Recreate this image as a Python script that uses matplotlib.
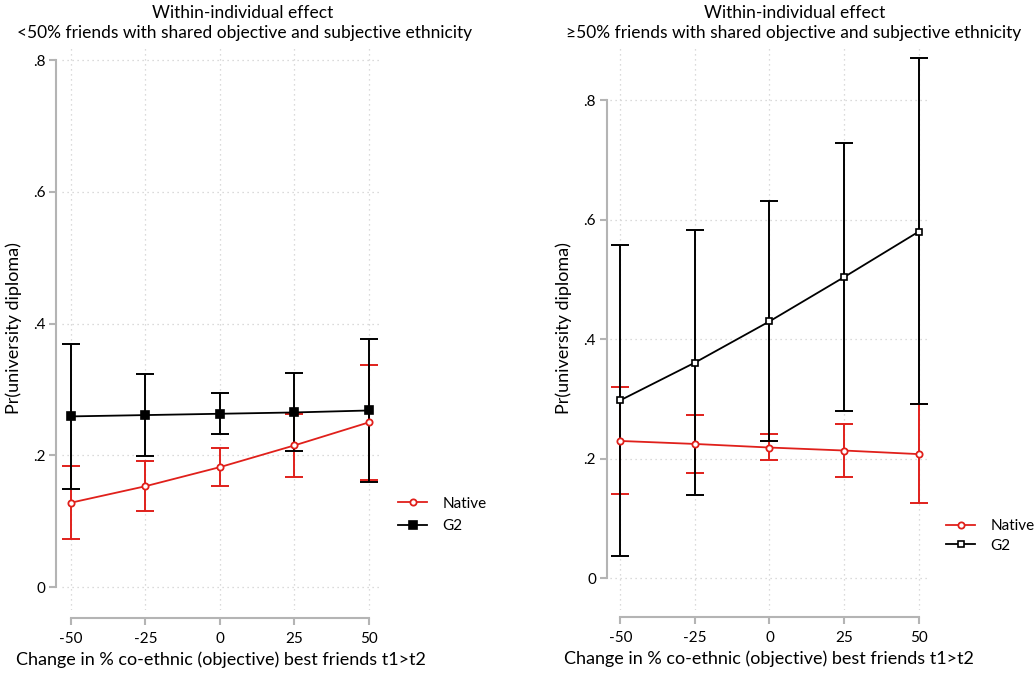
import matplotlib
matplotlib.use("Agg")
import matplotlib.pyplot as plt
from matplotlib.lines import Line2D
import numpy as np

plt.rcParams["font.family"] = ["Lato", "DejaVu Sans"]

# x values (change in % co-ethnic best friends)
change = [-50, -25, 0, 25, 50]

# left panel: <50% friends with shared ethnicity
left_native = [0.128, 0.153, 0.182, 0.215, 0.250]
left_native_lo = [0.073, 0.115, 0.153, 0.167, 0.163]
left_native_hi = [0.184, 0.192, 0.211, 0.263, 0.337]
left_g2 = [0.259, 0.261, 0.263, 0.265, 0.268]
left_g2_lo = [0.149, 0.199, 0.232, 0.206, 0.160]
left_g2_hi = [0.369, 0.323, 0.294, 0.325, 0.376]

# right panel: >=50% friends with shared ethnicity
right_native = [0.230, 0.225, 0.219, 0.214, 0.208]
right_native_lo = [0.141, 0.176, 0.198, 0.169, 0.127]
right_native_hi = [0.320, 0.274, 0.242, 0.259, 0.291]
right_g2 = [0.298, 0.361, 0.430, 0.504, 0.580]
right_g2_lo = [0.038, 0.139, 0.230, 0.280, 0.292]
right_g2_hi = [0.557, 0.583, 0.631, 0.729, 0.870]

xticks = [-50, -25, 0, 25, 50]
left_yticks = [0, 0.2, 0.4, 0.6, 0.8]
ytick_labels = ["0", ".2", ".4", ".6", ".8"]

RED = "#e0201b"
GRAY = "#b4b4b4"
W, H = 1036, 674

fig = plt.figure(figsize=(W / 100, H / 100), dpi=100)


def px_axes(left, top, right, bottom):
    return fig.add_axes([left / W, 1 - bottom / H, (right - left) / W, (bottom - top) / H])


def draw_panel(ax, nat, nat_lo, nat_hi, g2, g2_lo, g2_hi, g2_filled, xlim, ylim, yoff, xoff):
    ax.set_xlim(*xlim)
    ax.set_ylim(*ylim)
    nat, g2 = np.array(nat), np.array(g2)
    # confidence intervals first, then lines on top
    ax.errorbar(change, nat, yerr=[nat - np.array(nat_lo), np.array(nat_hi) - nat],
                fmt="none", ecolor=RED, elinewidth=1.4, capsize=6.5, capthick=1.4, zorder=2)
    ax.errorbar(change, g2, yerr=[g2 - np.array(g2_lo), np.array(g2_hi) - g2],
                fmt="none", ecolor="black", elinewidth=1.4, capsize=6.5, capthick=1.4, zorder=3)
    ax.plot(change, nat, color=RED, lw=1.3, marker="o", ms=4.5, mfc="white", mec=RED,
            mew=1.3, zorder=4)
    ax.plot(change, g2, color="black", lw=1.3, marker="s", ms=5.5 if g2_filled else 4.8,
            mfc="black" if g2_filled else "white", mec="black", mew=1.2, zorder=5)

    ax.set_xticks(xticks)
    ax.set_xticklabels([str(v) for v in xticks])
    ax.set_yticks(left_yticks)
    ax.set_yticklabels(ytick_labels)
    ax.grid(True, color="#cfcfcf", linestyle=(0, (1, 3)), linewidth=0.9)
    ax.set_axisbelow(True)
    for s in ["top", "right"]:
        ax.spines[s].set_visible(False)
    ax.spines["left"].set_position(("outward", yoff))
    ax.spines["bottom"].set_position(("outward", xoff))
    ax.spines["left"].set_bounds(0, 0.8)
    ax.spines["bottom"].set_bounds(-50, 50)
    for s in ["left", "bottom"]:
        ax.spines[s].set_color(GRAY)
        ax.spines[s].set_linewidth(1.5)
    ax.tick_params(axis="both", colors=GRAY, width=1.5, length=5, labelcolor="black",
                   labelsize=11)
    ax.tick_params(axis="x", pad=5)
    ax.tick_params(axis="y", pad=3)
    ax.set_xlabel("Change in % co-ethnic (objective) best friends t1>t2", fontsize=13,
                  labelpad=4)
    ax.set_ylabel("Pr(university diploma)", fontsize=13, labelpad=8)


ax1 = px_axes(62, 46, 380, 610)
draw_panel(ax1, left_native, left_native_lo, left_native_hi,
           left_g2, left_g2_lo, left_g2_hi, True,
           (-53.0, 53.7), (-0.0349, 0.8213), 4, 6)

ax2 = px_axes(610, 46, 928, 610)
draw_panel(ax2, right_native, right_native_lo, right_native_hi,
           right_g2, right_g2_lo, right_g2_hi, False,
           (-53.45, 53.12), (-0.0527, 0.8905), 2, 5)

fig.text(243 / W, 1 - 13 / H, "Within-individual effect", ha="center", va="center", fontsize=12.5)
fig.text(245 / W, 1 - 33 / H, "<50% friends with shared objective and subjective ethnicity",
         ha="center", va="center", fontsize=12.5)
fig.text(795 / W, 1 - 13 / H, "Within-individual effect", ha="center", va="center", fontsize=12.5)
fig.text(794 / W, 1 - 33 / H, "\u226550% friends with shared objective and subjective ethnicity",
         ha="center", va="center", fontsize=12.5)


def make_handles(g2_filled):
    h_nat = Line2D([], [], color=RED, lw=1.3, marker="o", ms=4.5, mfc="white", mec=RED, mew=1.3)
    h_g2 = Line2D([], [], color="black", lw=1.3, marker="s", ms=5.5 if g2_filled else 4.8,
                  mfc="black" if g2_filled else "white", mec="black", mew=1.2)
    return [h_nat, h_g2]


fig.legend(make_handles(True), ["Native", "G2"], loc="center left",
           bbox_to_anchor=(398 / W, 1 - 515 / H), frameon=False, fontsize=11,
           handlelength=1.9, handletextpad=1.0, labelspacing=0.55, borderpad=0,
           borderaxespad=0)
fig.legend(make_handles(False), ["Native", "G2"], loc="center left",
           bbox_to_anchor=(946 / W, 1 - 536 / H), frameon=False, fontsize=11,
           handlelength=1.9, handletextpad=1.0, labelspacing=0.35, borderpad=0,
           borderaxespad=0)

plt.savefig("out.png", dpi=100)
